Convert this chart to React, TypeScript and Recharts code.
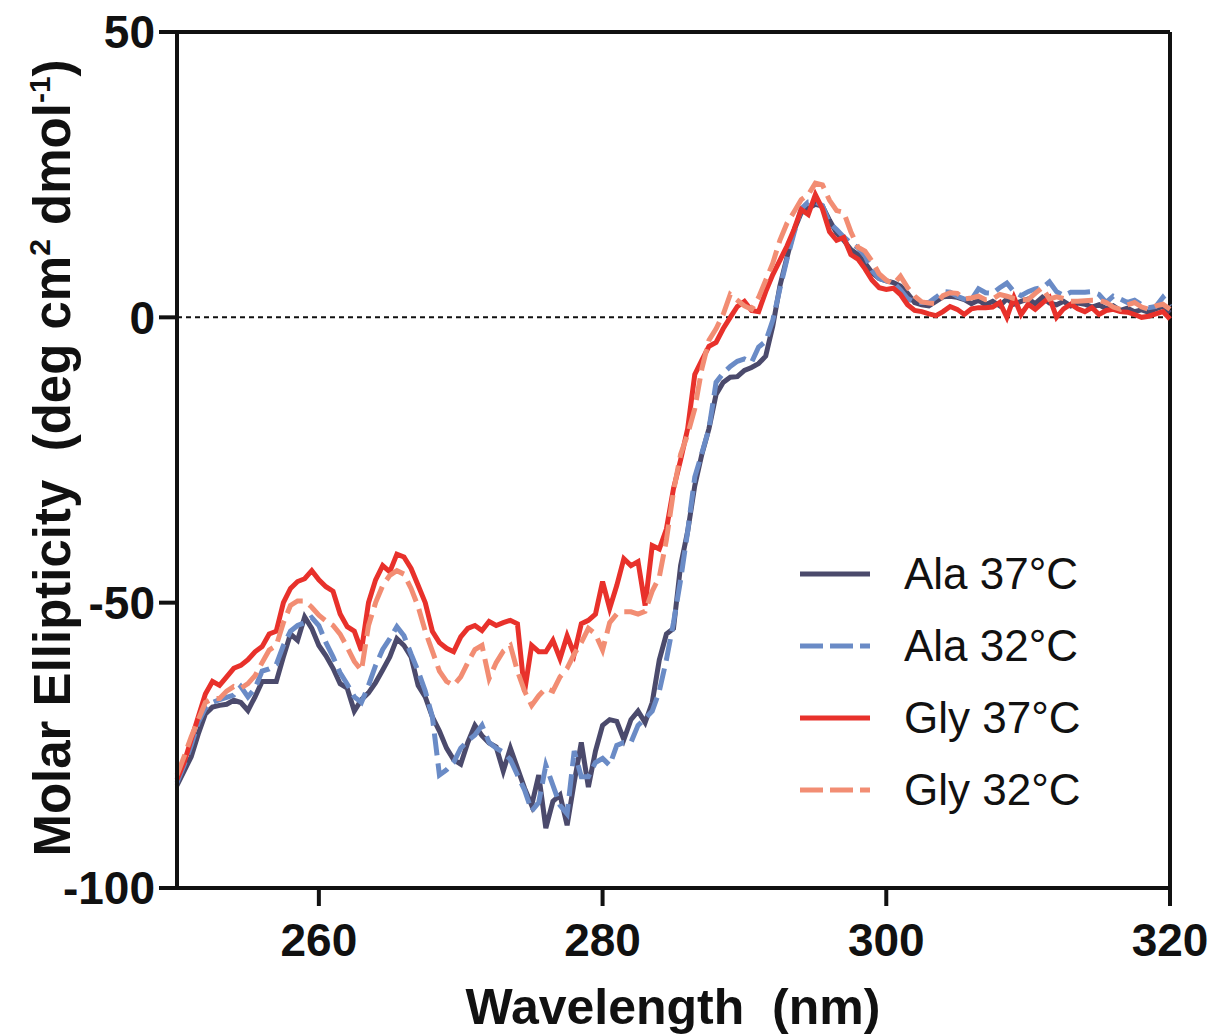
import { LineChart, Line, XAxis, YAxis, ReferenceLine } from 'recharts'

// wavelength grid, 0.5 nm steps from 250 to 320 nm
const wavelengths = Array.from({ length: 141 }, (_, i) => 250 + i * 0.5)

const ala37 = [
  -82, -79.5, -77, -73, -69.5, -68.3, -68, -67.8, -67.1, -67.5,
  -68.9, -66.5, -63.8, -63.8, -63.8, -59.5, -55.5, -56.6, -52.5, -54.5,
  -57.5, -59.3, -61.5, -64.2, -65, -69, -67, -65.8, -64, -61.8,
  -59.5, -56.3, -57.5, -59.5, -64.5, -66.5, -70, -72.5, -75.5, -77.5,
  -78.3, -74.5, -71.5, -73.3, -74.6, -75.3, -79.5, -75.5, -79, -82.5,
  -85.5, -80.2, -89.5, -84.8, -83.7, -89, -81.5, -74.5, -82.3, -76,
  -71.5, -70.5, -70.8, -74, -70.5, -69, -71, -67.5, -60, -55.5,
  -54.5, -43.5, -37.5, -29.5, -24, -19.5, -13.5, -11.4, -10.5, -10.4,
  -9.3, -8.8, -8.1, -6.8, -1.5, 5.5, 10.5, 15.3, 18.3, 19.1,
  19.8, 19.5, 17, 14.8, 13.5, 11.9, 11, 9.5, 7.8, 6.8,
  6.4, 6.1, 5.5, 4.2, 2.6, 2.2, 2, 2.8, 3.6, 3.7,
  3.5, 3.1, 2.4, 3, 2.2, 2.8, 2, 3.2, 2.3, 2.8,
  3.2, 2.4, 3.5, 2.5, 2.2, 2.8, 2, 2.5, 2.3, 1.8,
  2.2, 1.5, 2.0, 1.2, 1.6, 1.0, 1.3, 0.9, 1.5, 1.9,
  0.8,
]

const ala32 = [
  -81.5, -78.5, -75, -71, -68.5, -67.5, -67, -66.6, -66.2, -64.7,
  -66.5, -65, -62, -61.6, -60.8, -57.5, -55, -54, -53.5, -52.6,
  -54, -57, -59.5, -62.3, -64.3, -66.5, -67.5, -64.5, -61, -58.2,
  -56.3, -54.2, -55.8, -59, -62, -65.5, -70, -80.2, -79.3, -78,
  -75.5, -74.2, -73.2, -71.5, -74.5, -75.5, -76.2, -77.5, -80.2, -82.8,
  -86.5, -85, -78.5, -82, -85.5, -87, -76, -80.5, -80.5, -78,
  -77.3, -78.5, -75, -74.5, -74.5, -71.5, -70.3, -69, -65.5, -60,
  -53.5, -46, -37.5, -28, -23.8, -19.5, -11.4, -9.8, -8.6, -7.7,
  -7.3, -7.9, -5.2, -4.2, -0.5, 5, 10.2, 14.8, 19, 20.2,
  20.2, 19.6, 16.5, 15.4, 14.1, 13, 12.2, 10.8, 8.2, 6.8,
  6.4, 6.1, 4.8, 3.3, 2.6, 2.6, 2.6, 3.5, 4.5, 4.4,
  3.7, 3.2, 3.1, 5, 4.3, 4.2, 5.2, 6, 4.5, 3.8,
  4.5, 5, 5.2, 6.2, 4.5, 3.8, 4.4, 4.4, 4.4, 4.5,
  4, 2.6, 3.7, 3.2, 2.6, 3, 2.2, 1.7, 1.9, 3.5,
  1.9,
]

const gly37 = [
  -81, -78, -74, -70, -66, -63.8, -64.5, -63, -61.5, -61,
  -60, -58.6, -57.7, -55.5, -55, -50, -47.5, -46.3, -45.8, -44.4,
  -46, -47.2, -48, -52, -54.2, -55, -58.4, -50, -46, -43.5,
  -44.6, -41.5, -42, -44, -47, -50, -55, -57, -58, -58.6,
  -56, -54.5, -54, -54.9, -53.3, -54, -53.5, -53.1, -53.7, -65.6,
  -57.5, -58.6, -58.6, -56.6, -59.8, -55.8, -59, -53.7, -53.1, -52,
  -46.3, -51, -47, -42.3, -43.5, -42.8, -50.5, -40, -40.6, -37.1,
  -30, -25, -19.5, -10, -7.5, -5.1, -4.4, -2, 0, 1.9,
  2.8, 1.2, 1, 4.5, 7.5, 10, 12.5, 15.4, 18.9, 18,
  21.5, 19, 15, 13.5, 14, 11, 10.2, 8.5, 6.5, 5.2,
  4.9, 5.1, 4, 2.2, 1.2, 1.0, 0.6, 0.3, 1, 1.9,
  1.4, 0.5, 1.5, 1.7, 1.7, 1.8, 2.6, 0, 3.5, 0.5,
  2.3, 1.4, 2.5, 3.5, 0, 1.5, 2.3, 1.5, 1.0, 1.7,
  0.5, 1.2, 1.4, 1, 0.9, 0.5, 0, 0.2, 0.6, 1,
  -0.3,
]

const gly32 = [
  -80.2, -77, -73.5, -70.5, -67.5, -66.8, -66.8, -65.5, -64.7, -65,
  -64.2, -62.8, -60.5, -58.3, -57.5, -53.5, -50.5, -49.7, -49.7, -50.8,
  -52.2, -53.2, -54, -55.5, -57.8, -60.3, -61.9, -54, -50, -47,
  -45.2, -44.4, -45, -47.5, -50.7, -55, -58.5, -62, -63.8, -64.5,
  -63, -60.5, -58.2, -57.5, -63.3, -60.5, -58.5, -57.5, -62, -65.5,
  -68, -66.3, -65, -65.5, -63, -61.5, -59, -57, -54.5, -55.5,
  -58.3, -53.5, -52, -51.6, -51.6, -52, -51.5, -48, -45.5, -39,
  -30.5, -24, -20.5, -16, -9, -4, -2, 0.5, 4, 3,
  2, 1.4, 3.5, 6.5, 9.5, 13.5, 16.5, 18.5, 20.6, 21.5,
  23.5, 23.2, 20.5, 18.7, 18.4, 15, 12.3, 11.6, 9.8, 7.6,
  6.5, 5.8, 7.2, 5.2, 3.7, 2.7, 2.5, 2.4, 3.8, 4.3,
  4.2, 3.2, 3.4, 3.7, 3.1, 3.2, 4.0, 3.7, 3.3, 3.1,
  3.1, 4.2, 5.2, 3.2, 3.6, 3.3, 2.8, 2.8, 2.9, 3.0,
  3.0, 2.6, 1.8, 1.4, 2.2, 2.6, 1.8, 1.4, 2.0, 2.3,
  1.4,
]

const xTicks = [260, 280, 300, 320]
const yTicks = [-100, -50, 0, 50]

const FONT = '"Liberation Sans", Arial, Helvetica, sans-serif'
const DASH = '22 8'

const series = [
  { key: 'ala37', name: 'Ala 37°C', color: '#4b4a6c', dash: undefined },
  { key: 'ala32', name: 'Ala 32°C', color: '#6a8bc6', dash: DASH },
  { key: 'gly37', name: 'Gly 37°C', color: '#e8312b', dash: undefined },
  { key: 'gly32', name: 'Gly 32°C', color: '#f28d73', dash: DASH },
]

const data = wavelengths.map((w, i) => ({
  w,
  ala37: ala37[i],
  ala32: ala32[i],
  gly37: gly37[i],
  gly32: gly32[i],
}))

// legend drawn as an overlay so it doesn't eat into the plot area
function ChartLegend() {
  return (
    <div
      style={{
        position: 'absolute',
        left: 798,
        top: 538,
        fontFamily: FONT,
        fontSize: 44,
        color: '#111',
      }}
    >
      {series.map((s) => (
        <div key={s.key} style={{ display: 'flex', alignItems: 'center', height: 72 }}>
          <svg width={74} height={10} style={{ marginRight: 32 }}>
            <line
              x1={2}
              x2={72}
              y1={5}
              y2={5}
              stroke={s.color}
              strokeWidth={5}
              strokeDasharray={s.dash ? '23 7' : undefined}
            />
          </svg>
          <span>{s.name}</span>
        </div>
      ))}
    </div>
  )
}

export default function App() {
  return (
    <div style={{ position: 'absolute', left: 0, top: 0, width: 1212, height: 1036, background: '#fff' }}>
      <LineChart
        width={1212}
        height={1036}
        data={data}
        margin={{ top: 32, right: 42, bottom: 0, left: 0 }}
      >
        <XAxis
          dataKey="w"
          type="number"
          domain={[250, 320]}
          ticks={xTicks}
          height={148}
          axisLine={{ stroke: '#111', strokeWidth: 4 }}
          tickLine={{ stroke: '#111', strokeWidth: 4 }}
          tickSize={18}
          tickMargin={17}
          tick={{ fill: '#111', fontSize: 46, fontWeight: 'bold', fontFamily: FONT }}
          label={{
            content: () => (
              <text
                x={673}
                y={1024}
                textAnchor="middle"
                fill="#111"
                style={{ fontFamily: FONT, fontSize: 50, fontWeight: 'bold', whiteSpace: 'pre' }}
              >
                Wavelength  (nm)
              </text>
            ),
          }}
        />
        <YAxis
          type="number"
          domain={[-100, 50]}
          ticks={yTicks}
          width={177}
          axisLine={{ stroke: '#111', strokeWidth: 4 }}
          tickLine={{ stroke: '#111', strokeWidth: 4 }}
          tickSize={18}
          tickMargin={4}
          tick={{ fill: '#111', fontSize: 46, fontWeight: 'bold', fontFamily: FONT }}
          label={{
            content: () => (
              <text
                x={70}
                y={458}
                transform="rotate(-90, 70, 458)"
                textAnchor="middle"
                fill="#111"
                style={{ fontFamily: FONT, fontSize: 51, fontWeight: 'bold', whiteSpace: 'pre' }}
              >
                Molar Ellipticity  (deg cm
                <tspan dy={-20} fontSize={30}>2</tspan>
                <tspan dy={20}> dmol</tspan>
                <tspan dy={-20} fontSize={30}>-1</tspan>
                <tspan dy={20}>)</tspan>
              </text>
            ),
          }}
        />
        <ReferenceLine y={0} stroke="#111" strokeWidth={2} strokeDasharray="5 4" />
        <ReferenceLine y={50} stroke="#111" strokeWidth={4} />
        <ReferenceLine x={320} stroke="#111" strokeWidth={4} />
        {series.map((s) => (
          <Line
            key={s.key}
            dataKey={s.key}
            name={s.name}
            type="linear"
            stroke={s.color}
            strokeWidth={5}
            strokeDasharray={s.dash}
            dot={false}
            isAnimationActive={false}
          />
        ))}
      </LineChart>
      <ChartLegend />
    </div>
  )
}
